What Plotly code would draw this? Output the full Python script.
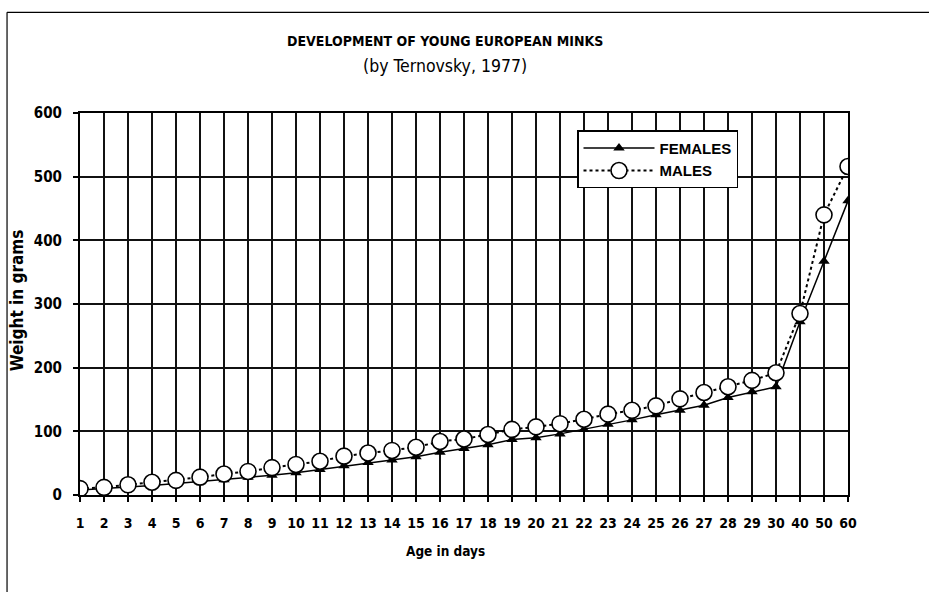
import plotly.graph_objects as go

# Age categories (days) and body weight (grams)
ages = [str(d) for d in range(1, 31)] + ["40", "50", "60"]
females = [8, 10, 12, 15, 18, 21, 24, 28, 31, 35, 40, 46, 51, 55, 60, 67, 73, 79,
           87, 90, 96, 103, 111, 118, 126, 133, 141, 153, 162, 170, 272, 367, 462]
males = [10, 12, 16, 20, 23, 28, 33, 37, 43, 48, 53, 61, 66, 70, 75, 84, 88, 95,
         103, 107, 112, 119, 127, 133, 140, 151, 161, 170, 180, 192, 285, 440, 516]
y_ticks = [0, 100, 200, 300, 400, 500, 600]

FONT = "Liberation Sans Narrow, DejaVu Sans Condensed, Liberation Sans, Arial, sans-serif"


def narrow(size, bold=True):
    return dict(family=FONT, size=size, color="black",
                weight="bold" if bold else "normal")


fig = go.Figure()
fig.add_trace(go.Scatter(
    x=ages, y=females, name="FEMALES", mode="lines+markers",
    line=dict(color="black", width=1.5),
    marker=dict(symbol="triangle-up", size=10, color="black"),
))
fig.add_trace(go.Scatter(
    x=ages, y=males, name="MALES", mode="lines+markers",
    line=dict(color="black", width=2, dash="dot"),
    marker=dict(symbol="circle", size=16, color="white",
                line=dict(color="black", width=1.6)),
))

fig.update_xaxes(
    type="category", categoryorder="array", categoryarray=ages,
    range=[0, len(ages) - 1],
    showgrid=True, gridcolor="#111111", gridwidth=1.8,
    showline=True, mirror=True, linecolor="black", linewidth=2,
    ticks="outside", ticklen=5, tickwidth=1.5, tickcolor="black",
    tickfont=narrow(14), ticklabelstandoff=9,
)
fig.update_yaxes(
    range=[0, 600], tickvals=y_ticks,
    showgrid=True, gridcolor="#111111", gridwidth=1.8, zeroline=False,
    showline=True, mirror=True, linecolor="black", linewidth=2,
    ticks="outside", ticklen=5, tickwidth=1.5, tickcolor="black",
    tickfont=narrow(15), ticklabelstandoff=8,
)

cx = (445 - 80) / 768
labels = [
    ("<b>DEVELOPMENT OF YOUNG EUROPEAN MINKS</b>", cx, (494.7 - 41) / 382, 0, narrow(14)),
    ("(by Ternovsky, 1977)", cx, (494.7 - 66) / 382, 0, narrow(17.5, bold=False)),
    ("<b>Age in days</b>", cx, (494.7 - 551) / 382, 0, narrow(13.5)),
    ("<b>Weight in grams</b>", (17 - 80) / 768, (494.7 - 300) / 382, -90, narrow(17)),
]
for text, x, y, angle, font in labels:
    fig.add_annotation(text=text, xref="paper", yref="paper", x=x, y=y,
                       xanchor="center", yanchor="middle", textangle=angle,
                       showarrow=False, font=font)

# Frame lines around the figure (left and top edges)
fig.add_shape(type="line", xref="paper", yref="paper",
              x0=-0.095, x1=-0.095, y0=-0.4, y1=1.2636,
              line=dict(color="black", width=1.2))
fig.add_shape(type="line", xref="paper", yref="paper",
              x0=-0.095, x1=1.3, y0=1.2636, y1=1.2636,
              line=dict(color="black", width=1.2))

fig.update_layout(
    width=929, height=592,
    margin=dict(l=80, r=81, t=113, b=97),
    paper_bgcolor="white", plot_bgcolor="white",
    showlegend=True,
    legend=dict(x=(577 - 80) / 768, y=(494.7 - 130) / 382,
                xanchor="left", yanchor="top",
                bgcolor="white", bordercolor="black", borderwidth=1.5,
                font=dict(family="Liberation Sans, Arial, sans-serif", size=15,
                          color="black", weight="bold"),
                itemwidth=71),
)

fig.write_html("out.html")
